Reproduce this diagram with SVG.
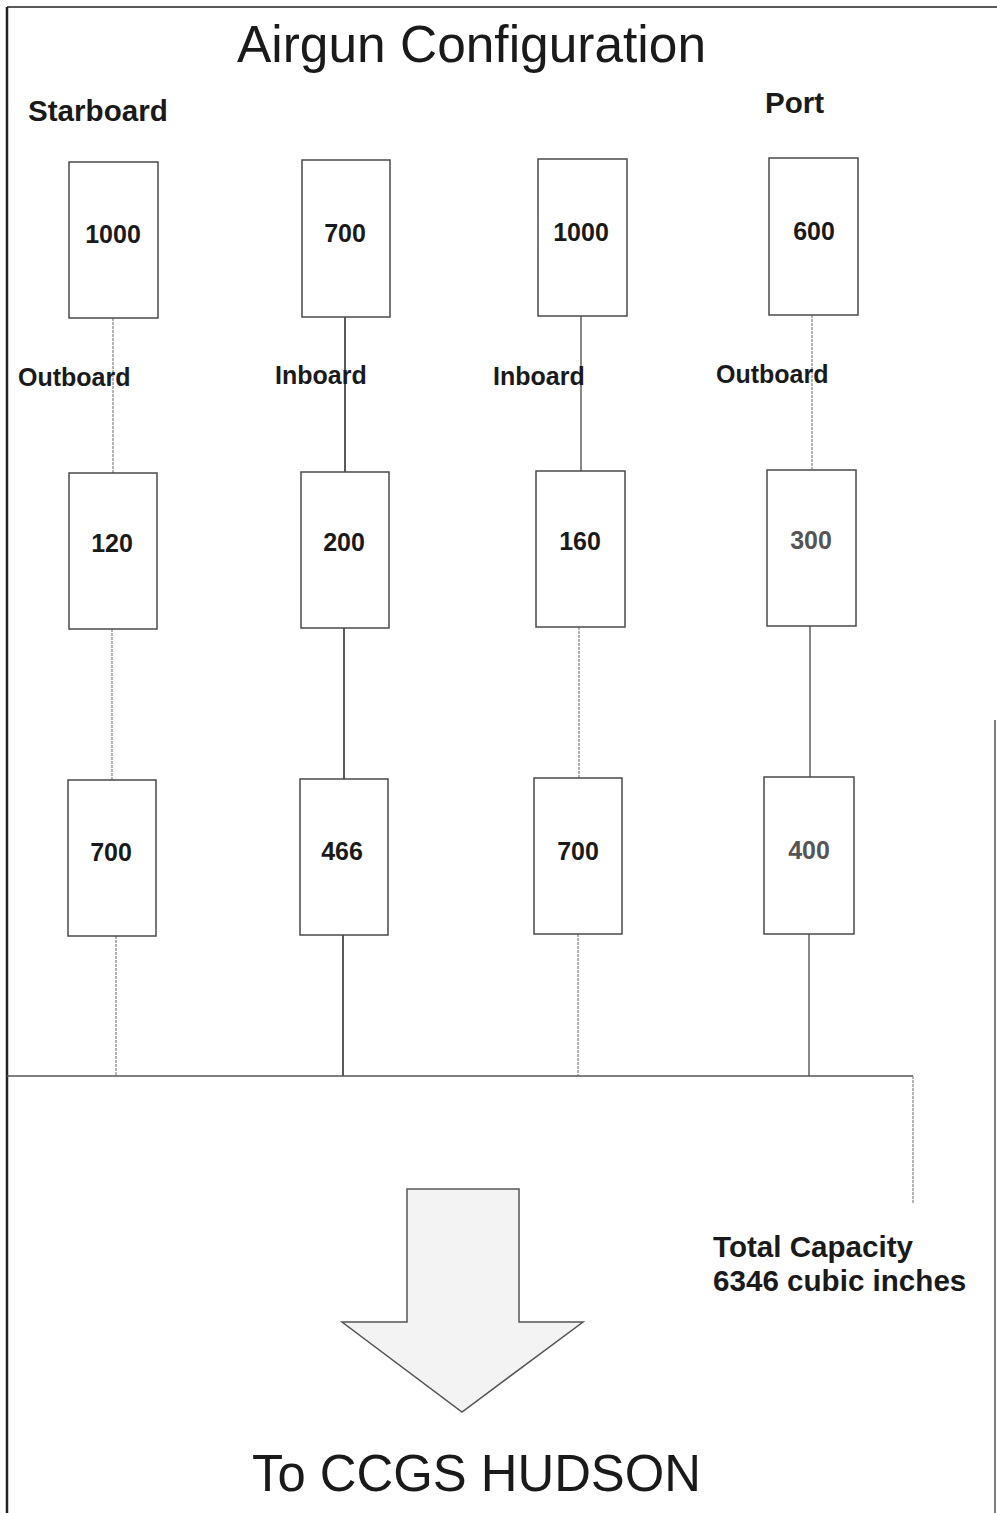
<svg xmlns="http://www.w3.org/2000/svg" width="997" height="1513" viewBox="0 0 997 1513">
<style>
.box{fill:#fff;stroke:#4a4a4a;stroke-width:1.5}
.num{font-family:"Liberation Sans",Arial,sans-serif;font-weight:bold;font-size:25px;fill:#1a1a1a;text-anchor:middle}
.lbl{font-family:"Liberation Sans",Arial,sans-serif;font-weight:bold;font-size:25px;fill:#1a1a1a}
.hdr{font-family:"Liberation Sans",Arial,sans-serif;font-weight:bold;font-size:29.6px;fill:#1a1a1a}
.big{font-family:"Liberation Sans",Arial,sans-serif;font-size:52px;fill:#1a1a1a}
.solid{stroke:#222;stroke-width:1.5;fill:none}
.faint{stroke:#8a8a8a;stroke-width:1.3;fill:none;stroke-dasharray:3 1}
.mid{stroke:#555;stroke-width:1.4;fill:none}
</style>
<rect x="0" y="0" width="997" height="1513" fill="#fff"/>
<g id="frame" fill="none" stroke="#222">
<line x1="7" y1="7" x2="997" y2="7" stroke-width="1.5"/>
<line x1="7" y1="7" x2="7" y2="1513" stroke-width="2.5"/>
<line x1="995" y1="720" x2="995" y2="1513" stroke-width="1.5" stroke="#555"/>
</g>
<g id="connectors">
<line class="faint" x1="113" y1="318" x2="113" y2="473"/>
<line class="faint" x1="112" y1="629" x2="112" y2="780"/>
<line class="faint" x1="116" y1="936" x2="116" y2="1076"/>
<line class="solid" x1="345" y1="317" x2="345" y2="472"/>
<line class="solid" x1="344" y1="628" x2="344" y2="779"/>
<line class="solid" x1="343" y1="935" x2="343" y2="1076"/>
<line class="mid" x1="581" y1="316" x2="581" y2="471"/>
<line class="faint" x1="579" y1="627" x2="579" y2="778"/>
<line class="faint" x1="578" y1="934" x2="578" y2="1076"/>
<line class="faint" x1="812" y1="315" x2="812" y2="470"/>
<line class="mid" x1="810" y1="626" x2="810" y2="777"/>
<line class="mid" x1="809" y1="934" x2="809" y2="1076"/>
<line class="mid" x1="7" y1="1076" x2="913" y2="1076"/>
<line class="faint" x1="913" y1="1076" x2="913" y2="1203"/>
</g>
<g id="n1000a"><rect class="box" x="69" y="162" width="89" height="156"/><text class="num" x="113" y="243">1000</text></g>
<g id="n700a"><rect class="box" x="302" y="160" width="88" height="157"/><text class="num" x="345" y="242">700</text></g>
<g id="n1000b"><rect class="box" x="538" y="159" width="89" height="157"/><text class="num" x="581" y="241">1000</text></g>
<g id="n600"><rect class="box" x="769" y="158" width="89" height="157"/><text class="num" x="814" y="240">600</text></g>
<g id="n120"><rect class="box" x="69" y="473" width="88" height="156"/><text class="num" x="112" y="552">120</text></g>
<g id="n200"><rect class="box" x="301" y="472" width="88" height="156"/><text class="num" x="344" y="551">200</text></g>
<g id="n160"><rect class="box" x="536" y="471" width="89" height="156"/><text class="num" x="580" y="550">160</text></g>
<g id="n300"><rect class="box" x="767" y="470" width="89" height="156"/><text class="num" x="811" y="549" style="fill:#555">300</text></g>
<g id="n700b"><rect class="box" x="68" y="780" width="88" height="156"/><text class="num" x="111" y="861">700</text></g>
<g id="n466"><rect class="box" x="300" y="779" width="88" height="156"/><text class="num" x="342" y="860">466</text></g>
<g id="n700c"><rect class="box" x="534" y="778" width="88" height="156"/><text class="num" x="578" y="860">700</text></g>
<g id="n400"><rect class="box" x="764" y="777" width="90" height="157"/><text class="num" x="809" y="859" style="fill:#555">400</text></g>
<g id="labels">
<text class="big" x="237" y="62" textLength="469" lengthAdjust="spacingAndGlyphs">Airgun Configuration</text>
<text class="hdr" x="28" y="121">Starboard</text>
<text class="hdr" x="765" y="113">Port</text>
<text class="lbl" x="18" y="386">Outboard</text>
<text class="lbl" x="275" y="384">Inboard</text>
<text class="lbl" x="493" y="385">Inboard</text>
<text class="lbl" x="716" y="383">Outboard</text>
<text class="hdr" x="713" y="1257">Total Capacity</text>
<text class="hdr" x="713" y="1291">6346 cubic inches</text>
<text class="big" x="252" y="1491" textLength="449" lengthAdjust="spacingAndGlyphs">To CCGS HUDSON</text>
</g>
<g id="arrow">
<polygon points="407,1189 519,1189 519,1322 583,1322 462,1412 342,1322 407,1322" fill="#f3f3f3" stroke="#555" stroke-width="1.5"/>
</g>
</svg>
